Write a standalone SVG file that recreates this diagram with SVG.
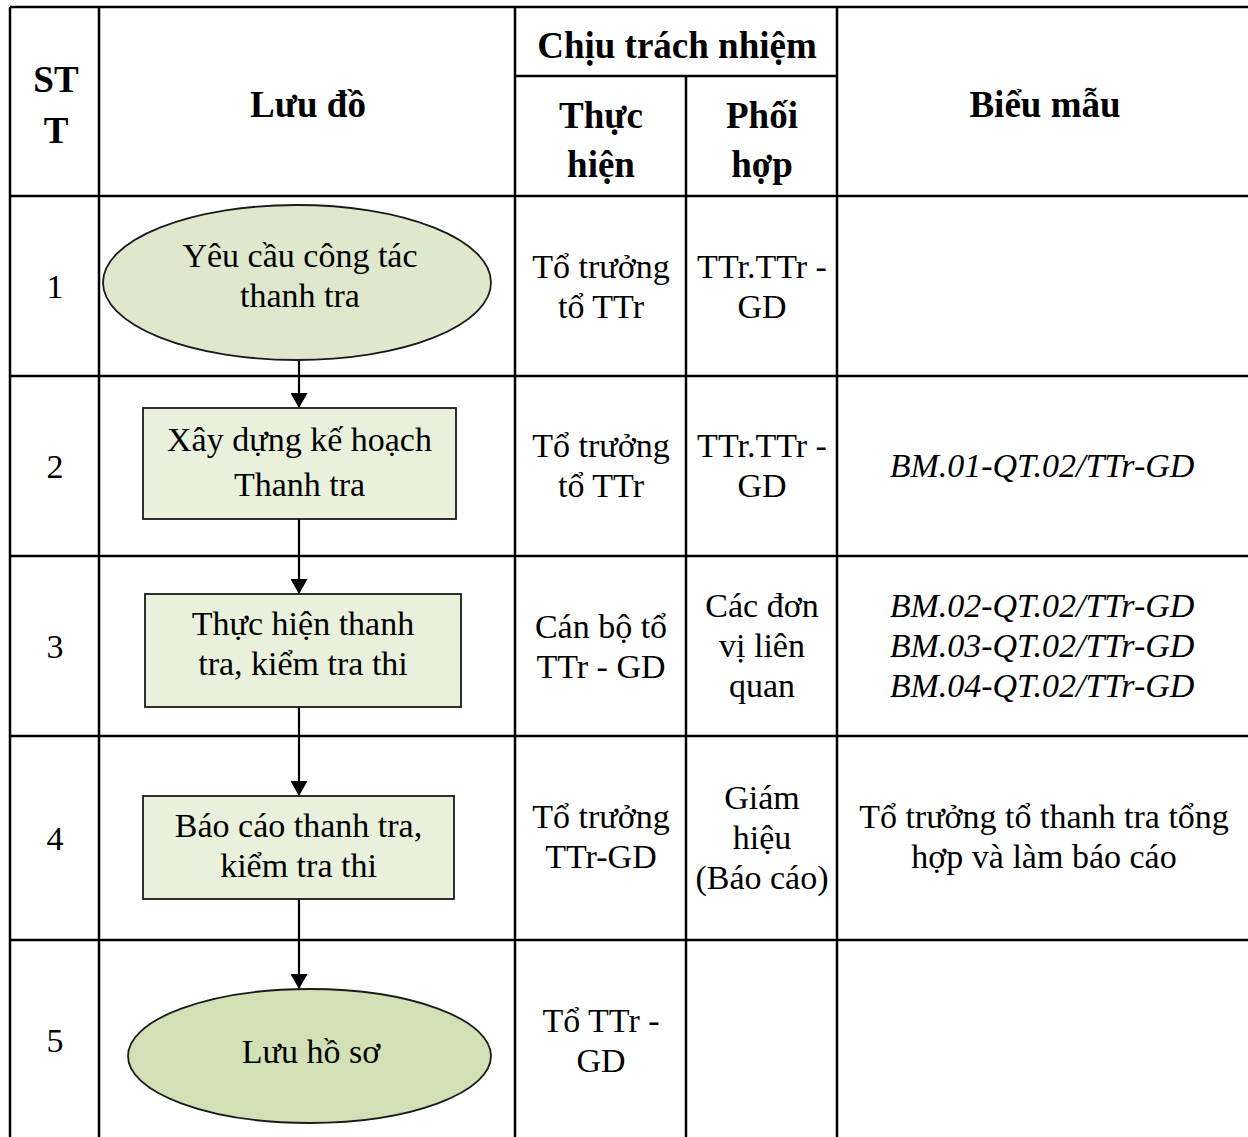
<svg xmlns="http://www.w3.org/2000/svg" width="1248" height="1137" viewBox="0 0 1248 1137">
<style>
.grid{stroke:#000;stroke-width:2.5;fill:none}
.t{font-family:"Liberation Serif","Times New Roman",serif;font-size:34px;fill:#000;text-anchor:middle}
.b{font-weight:bold;font-size:37px}
.i{font-style:italic}
.shape{stroke:#1a1a1a;stroke-width:1.8}
.conn{stroke:#000;stroke-width:2.2;fill:none}
</style>
<defs>
<marker id="arr" markerUnits="userSpaceOnUse" markerWidth="18" markerHeight="17" refX="15" refY="8.5" orient="auto">
<path d="M0,0 L15,8.5 L0,17 Z" fill="#000"/>
</marker>
</defs>
<rect width="1248" height="1137" fill="#fff"/>
<g id="table">
<line class="grid" x1="10" y1="7" x2="1250" y2="7"/>
<line class="grid" x1="515" y1="76" x2="837" y2="76"/>
<line class="grid" x1="10" y1="196" x2="1250" y2="196"/>
<line class="grid" x1="10" y1="376" x2="1250" y2="376"/>
<line class="grid" x1="10" y1="556" x2="1250" y2="556"/>
<line class="grid" x1="10" y1="736" x2="1250" y2="736"/>
<line class="grid" x1="10" y1="940" x2="1250" y2="940"/>
<line class="grid" x1="10" y1="7" x2="10" y2="1140"/>
<line class="grid" x1="99" y1="7" x2="99" y2="1140"/>
<line class="grid" x1="515" y1="7" x2="515" y2="1140"/>
<line class="grid" x1="686" y1="76" x2="686" y2="1140"/>
<line class="grid" x1="837" y1="7" x2="837" y2="1140"/>
</g>
<g id="header">
<text class="t b" x="56" y="92">ST</text>
<text class="t b" x="56" y="143">T</text>
<text class="t b" x="308" y="117">Lưu đồ</text>
<text class="t b" x="677" y="58">Chịu trách nhiệm</text>
<text class="t b" x="601" y="128">Thực</text>
<text class="t b" x="601" y="177">hiện</text>
<text class="t b" x="762" y="128">Phối</text>
<text class="t b" x="762" y="177">hợp</text>
<text class="t b" x="1045" y="117">Biểu mẫu</text>
</g>
<g id="stt">
<text class="t" x="55" y="298">1</text>
<text class="t" x="55" y="478">2</text>
<text class="t" x="55" y="658">3</text>
<text class="t" x="55" y="850">4</text>
<text class="t" x="55" y="1052">5</text>
</g>
<g id="connectors">
<line class="conn" x1="299" y1="360" x2="299" y2="408" marker-end="url(#arr)"/>
<line class="conn" x1="299" y1="519" x2="299" y2="594" marker-end="url(#arr)"/>
<line class="conn" x1="299" y1="707" x2="299" y2="796" marker-end="url(#arr)"/>
<line class="conn" x1="299" y1="899" x2="299" y2="989" marker-end="url(#arr)"/>
</g>
<g id="node1">
<ellipse class="shape" cx="297" cy="282.5" rx="194" ry="77.5" fill="#dfe8cd"/>
<text class="t" x="300" y="267">Yêu cầu công tác</text>
<text class="t" x="300" y="307">thanh tra</text>
</g>
<g id="node2">
<rect class="shape" x="143" y="408" width="313" height="111" fill="#e9f0dc"/>
<text class="t" x="299.5" y="451">Xây dựng kế hoạch</text>
<text class="t" x="299.5" y="496">Thanh tra</text>
</g>
<g id="node3">
<rect class="shape" x="145" y="594" width="316" height="113" fill="#e9f0dc"/>
<text class="t" x="303" y="635">Thực hiện thanh</text>
<text class="t" x="303" y="675">tra, kiểm tra thi</text>
</g>
<g id="node4">
<rect class="shape" x="143" y="796" width="311" height="103" fill="#e9f0dc"/>
<text class="t" x="298.5" y="837">Báo cáo thanh tra,</text>
<text class="t" x="298.5" y="877">kiểm tra thi</text>
</g>
<g id="node5">
<ellipse class="shape" cx="309.5" cy="1056" rx="181.5" ry="67" fill="#d2e0b6"/>
<text class="t" x="311" y="1063">Lưu hồ sơ</text>
</g>
<g id="cells">
<text class="t" x="601" y="278">Tổ trưởng</text>
<text class="t" x="601" y="318">tổ TTr</text>
<text class="t" x="762" y="278">TTr.TTr -</text>
<text class="t" x="762" y="318">GD</text>
<text class="t" x="601" y="457">Tổ trưởng</text>
<text class="t" x="601" y="497">tổ TTr</text>
<text class="t" x="762" y="457">TTr.TTr -</text>
<text class="t" x="762" y="497">GD</text>
<text class="t i" x="1042" y="477">BM.01-QT.02/TTr-GD</text>
<text class="t" x="601" y="638">Cán bộ tổ</text>
<text class="t" x="601" y="678">TTr - GD</text>
<text class="t" x="762" y="617">Các đơn</text>
<text class="t" x="762" y="657">vị liên</text>
<text class="t" x="762" y="697">quan</text>
<text class="t i" x="1042" y="617">BM.02-QT.02/TTr-GD</text>
<text class="t i" x="1042" y="657">BM.03-QT.02/TTr-GD</text>
<text class="t i" x="1042" y="697">BM.04-QT.02/TTr-GD</text>
<text class="t" x="601" y="828">Tổ trưởng</text>
<text class="t" x="601" y="868">TTr-GD</text>
<text class="t" x="762" y="809">Giám</text>
<text class="t" x="762" y="849">hiệu</text>
<text class="t" x="762" y="889">(Báo cáo)</text>
<text class="t" x="1044" y="828">Tổ trưởng tổ thanh tra tổng</text>
<text class="t" x="1044" y="868">hợp và làm báo cáo</text>
<text class="t" x="601" y="1032">Tổ TTr -</text>
<text class="t" x="601" y="1072">GD</text>
</g>
</svg>
